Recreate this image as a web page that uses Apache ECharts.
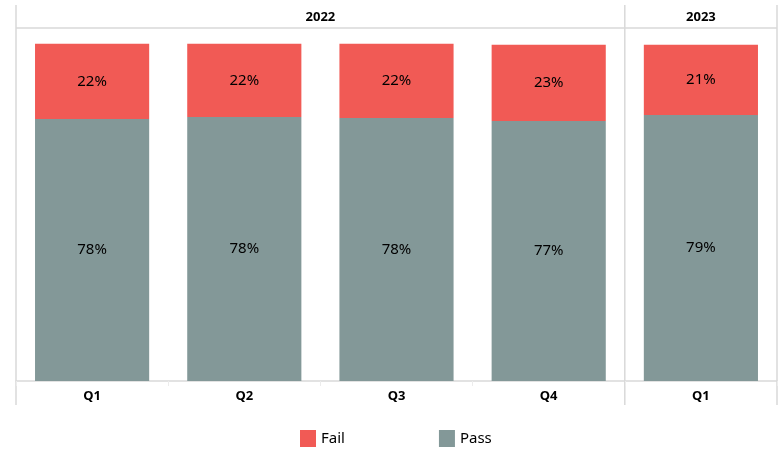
<!DOCTYPE html>
<html>
<head>
<meta charset="utf-8">
<script src="https://cdn.jsdelivr.net/npm/echarts@6/dist/echarts.min.js"></script>
<style>
  html, body { margin: 0; padding: 0; background: #fff; }
  #chart { width: 780px; height: 450px; }
</style>
</head>
<body>
<div id="chart"></div>
<script>
// quarters along the x axis, grouped by year
const quarters = ['Q1', 'Q2', 'Q3', 'Q4', 'Q1'];
const years = ['2022', '2023'];
const quartersPerYear = [4, 1];

// share of results per quarter (%)
const passValues = [77.7, 78.3, 78.0, 77.1, 78.9];
const failValues = [22.3, 21.7, 22.0, 22.6, 20.8];

const FAIL_COLOR = '#f15a55';
const PASS_COLOR = '#839898';
const LINE_COLOR = '#d9d9d9';
const FONT = '"Noto Sans", "Open Sans", sans-serif';

// frame layout
const W = 780;
const gridLeft = 16, gridRight = 3, gridTop = 28, gridBottom = 69;
const frameTop = 5, frameBottom = 405;
const plotW = W - gridLeft - gridRight;
const catW = plotW / quarters.length;

const chart = echarts.init(document.getElementById('chart'));

function buildGraphics() {
  const items = [];
  // outer vertical lines
  [gridLeft, W - gridRight].forEach(x => {
    items.push({ type: 'line', shape: { x1: x, y1: frameTop, x2: x, y2: frameBottom },
      style: { stroke: LINE_COLOR, lineWidth: 1.5 }, silent: true });
  });
  // header line
  items.push({ type: 'line', shape: { x1: gridLeft, y1: gridTop, x2: W - gridRight, y2: gridTop },
    style: { stroke: LINE_COLOR, lineWidth: 1.5 }, silent: true });
  // year groups
  let start = 0;
  years.forEach((yr, i) => {
    const n = quartersPerYear[i];
    const x0 = gridLeft + start * catW;
    const x1 = x0 + n * catW;
    items.push({ type: 'text', x: (x0 + x1) / 2, y: (frameTop + gridTop) / 2 + 1,
      style: { text: yr, fill: '#000', font: 'bold 13px ' + FONT, align: 'center', verticalAlign: 'middle' },
      silent: true });
    if (i < years.length - 1) {
      items.push({ type: 'line', shape: { x1: x1, y1: frameTop, x2: x1, y2: frameBottom },
        style: { stroke: LINE_COLOR, lineWidth: 1.5 }, silent: true });
    }
    start += n;
  });
  return items;
}

chart.setOption({
  animation: false,
  textStyle: { fontFamily: FONT },
  grid: { left: gridLeft, right: gridRight, top: gridTop, bottom: gridBottom, containLabel: false },
  legend: {
    data: ['Fail', 'Pass'],
    top: 425,
    left: 295,
    itemWidth: 16,
    itemHeight: 17,
    itemGap: 94,
    icon: 'rect',
    textStyle: { fontSize: 15, color: '#000', fontFamily: FONT }
  },
  xAxis: {
    type: 'category',
    data: quarters,
    axisLine: { show: true, lineStyle: { color: LINE_COLOR, width: 1.5 } },
    axisTick: { show: true, length: 5, lineStyle: { color: '#ececec' } },
    axisLabel: { color: '#000', fontWeight: 'bold', fontSize: 13, margin: 9 },
    splitLine: { show: false }
  },
  yAxis: {
    type: 'value',
    min: 0,
    max: 104.7,
    show: false,
    splitLine: { show: false }
  },
  series: [
    {
      name: 'Pass',
      type: 'bar',
      stack: 'total',
      barWidth: '75%',
      data: passValues,
      itemStyle: { color: PASS_COLOR },
      label: { show: true, position: 'inside', color: '#000', fontSize: 15,
        formatter: p => Math.round(p.value) + '%' }
    },
    {
      name: 'Fail',
      type: 'bar',
      stack: 'total',
      barWidth: '75%',
      data: failValues,
      itemStyle: { color: FAIL_COLOR },
      label: { show: true, position: 'inside', color: '#000', fontSize: 15,
        formatter: p => Math.round(p.value) + '%' }
    }
  ],
  graphic: buildGraphics()
});
</script>
</body>
</html>
